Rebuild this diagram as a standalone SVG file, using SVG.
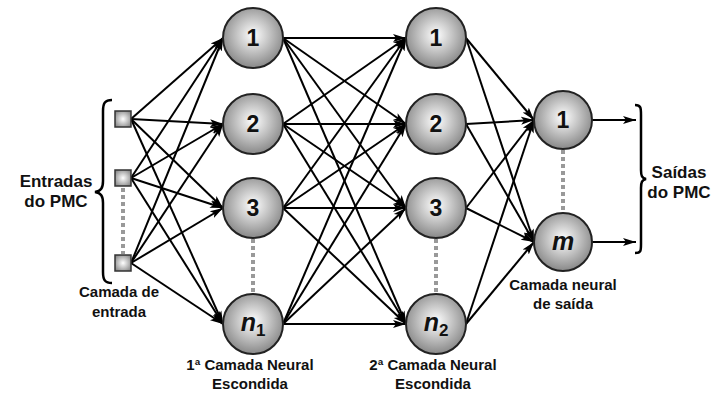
<svg xmlns="http://www.w3.org/2000/svg" width="720" height="416" viewBox="0 0 720 416">
<defs>
<radialGradient id="gc" cx="0.5" cy="0.45" r="0.55">
<stop offset="0" stop-color="#ffffff"/>
<stop offset="1" stop-color="#888888"/>
</radialGradient>
<radialGradient id="gs" cx="0.5" cy="0.5" r="0.6">
<stop offset="0" stop-color="#ffffff"/>
<stop offset="1" stop-color="#8a8a8a"/>
</radialGradient>
<marker id="ar" markerUnits="userSpaceOnUse" markerWidth="13" markerHeight="10" refX="13" refY="5" orient="auto">
<path d="M0,1 L13,5 L0,9 L3,5 Z" fill="#000"/>
</marker>
<style>
.c{fill:url(#gc);stroke:#222;stroke-width:2}
.s{fill:url(#gs);stroke:#333;stroke-width:1.5}
.n{font-family:"Liberation Sans",Arial,sans-serif;font-weight:bold;font-size:23px;text-anchor:middle;fill:#111}
.i{font-style:italic;font-size:25px}
.t{font-family:"Liberation Sans",Arial,sans-serif;font-weight:bold;text-anchor:middle;fill:#111}
.l{stroke:#000;stroke-width:2;fill:none;marker-end:url(#ar)}
.d{stroke:#999;stroke-width:4;stroke-dasharray:4,3;fill:none}
.b{stroke:#000;stroke-width:2.5;fill:none}
</style>
</defs>
<g id="connectors">
<g class="l">
<path d="M131,119 L223,38"/><path d="M131,119 L223,124"/><path d="M131,119 L223,208"/><path d="M131,119 L223,324"/>
<path d="M131,178 L223,38"/><path d="M131,178 L223,124"/><path d="M131,178 L223,208"/><path d="M131,178 L223,324"/>
<path d="M131,263 L223,38"/><path d="M131,263 L223,124"/><path d="M131,263 L223,208"/><path d="M131,263 L223,324"/>
<path d="M283,38 L406,38"/><path d="M283,38 L406,124"/><path d="M283,38 L406,208"/><path d="M283,38 L406,324"/>
<path d="M283,124 L406,38"/><path d="M283,124 L406,124"/><path d="M283,124 L406,208"/><path d="M283,124 L406,324"/>
<path d="M283,208 L406,38"/><path d="M283,208 L406,124"/><path d="M283,208 L406,208"/><path d="M283,208 L406,324"/>
<path d="M283,324 L406,38"/><path d="M283,324 L406,124"/><path d="M283,324 L406,208"/><path d="M283,324 L406,324"/>
<path d="M466,38 L534,120"/><path d="M466,38 L534,242"/>
<path d="M466,124 L534,120"/><path d="M466,124 L534,242"/>
<path d="M466,208 L534,120"/><path d="M466,208 L534,242"/>
<path d="M466,324 L534,120"/><path d="M466,324 L534,242"/>
<path d="M592,120 L636,120"/><path d="M592,242 L636,242"/>
</g>
<path class="d" d="M123,188 L123,254"/>
<path class="d" d="M253,239 L253,293"/>
<path class="d" d="M436,239 L436,293"/>
<path class="d" d="M563,150 L563,212"/>
</g>
<g id="brace-in"><path class="b" d="M112,100 C105,100 103,103 103,111 L103,181 C103,188 101,191 95,192 C101,193 103,196 103,203 L103,272 C103,280 105,283 112,283"/></g>
<g id="brace-out"><path class="b" d="M635,105 C641,105 641,108 641,115 L641,170 C641,176 642,178 646,179 C642,180 641,182 641,188 L641,244 C641,251 641,253 635,253"/></g>
<g id="in1"><rect class="s" x="115" y="111" width="16" height="16"/></g>
<g id="in2"><rect class="s" x="115" y="170" width="16" height="16"/></g>
<g id="in3"><rect class="s" x="115" y="255" width="16" height="16"/></g>
<g id="h1-1"><circle class="c" cx="253" cy="38" r="30"/><text class="n" x="253" y="46">1</text></g>
<g id="h1-2"><circle class="c" cx="253" cy="124" r="30"/><text class="n" x="253" y="132">2</text></g>
<g id="h1-3"><circle class="c" cx="253" cy="208" r="30"/><text class="n" x="253" y="216">3</text></g>
<g id="h1-n"><circle class="c" cx="253" cy="324" r="30"/><text class="n" x="253" y="331"><tspan class="i">n</tspan><tspan font-size="17" dy="5">1</tspan></text></g>
<g id="h2-1"><circle class="c" cx="436" cy="38" r="30"/><text class="n" x="436" y="46">1</text></g>
<g id="h2-2"><circle class="c" cx="436" cy="124" r="30"/><text class="n" x="436" y="132">2</text></g>
<g id="h2-3"><circle class="c" cx="436" cy="208" r="30"/><text class="n" x="436" y="216">3</text></g>
<g id="h2-n"><circle class="c" cx="436" cy="324" r="30"/><text class="n" x="436" y="331"><tspan class="i">n</tspan><tspan font-size="17" dy="5">2</tspan></text></g>
<g id="o-1"><circle class="c" cx="563" cy="120" r="29"/><text class="n" x="563" y="128">1</text></g>
<g id="o-m"><circle class="c" cx="563" cy="242" r="29"/><text class="n i" x="563" y="250">m</text></g>
<g id="labels">
<text class="t" font-size="17" x="56" y="187">Entradas</text>
<text class="t" font-size="17" x="56" y="207">do PMC</text>
<text class="t" font-size="15" x="119" y="297">Camada de</text>
<text class="t" font-size="15" x="119" y="317">entrada</text>
<text class="t" font-size="15" x="250" y="370">1ª Camada Neural</text>
<text class="t" font-size="15" x="250" y="389">Escondida</text>
<text class="t" font-size="15" x="433" y="370">2ª Camada Neural</text>
<text class="t" font-size="15" x="433" y="389">Escondida</text>
<text class="t" font-size="15" x="563" y="290">Camada neural</text>
<text class="t" font-size="15" x="563" y="309">de saída</text>
<text class="t" font-size="17" x="679" y="178">Saídas</text>
<text class="t" font-size="17" x="679" y="198">do PMC</text>
</g>
</svg>
